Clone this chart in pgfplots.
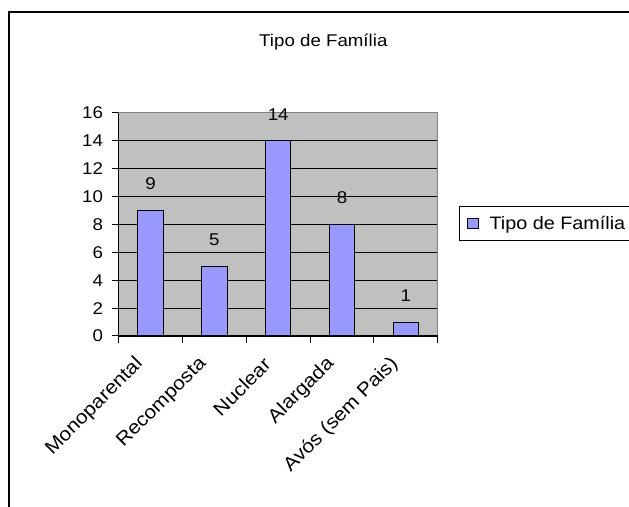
\documentclass[border=0pt]{standalone}
\usepackage{fontspec}
\setmainfont{Liberation Sans}[FakeStretch=1.1]
\usepackage{pgfplots}
\pgfplotsset{compat=1.18}
\definecolor{barblue}{RGB}{153,153,255}
\definecolor{plotgray}{RGB}{192,192,192}
\newcommand{\cf}{\fontsize{12.75}{15}\selectfont}
\newcommand{\lf}{\fontsize{13.5}{15}\selectfont}
\newcommand{\xf}{\fontsize{14.3}{16}\selectfont}
\begin{document}
\begin{tikzpicture}
\useasboundingbox (0,0) rectangle (471.75pt,380.25pt);
\clip (0,0) rectangle (471.75pt,380.25pt);
\fill[white] (0,0) rectangle (471.75pt,380.25pt);
\draw[line width=1.6pt] (6.75pt,-20pt) -- (6.75pt,371pt) -- (500pt,371pt);
\node[anchor=base, font=\cf, inner sep=0pt] at (242.5pt,345.2pt) {Tipo de Família};
\begin{axis}[
  at={(89.03pt,128.25pt)}, anchor=south west,
  scale only axis, width=239.25pt, height=167.5pt,
  clip=false,
  xmin=-0.5, xmax=4.5, ymin=0, ymax=16,
  ytick={0,2,...,16},
  xtick={0,1,2,3,4},
  xticklabels={Monoparental,Recomposta,Nuclear,Alargada,Avós (sem Pais)},
  minor xtick={-0.5,0.5,...,4.5},
  major x tick style={draw=none},
  tick align=outside,
  xtick pos=bottom, ytick pos=left,
  major tick length=5.25pt, minor tick length=5pt,
  tick style={black, line width=0.75pt},
  ymajorgrids, grid style={black, line width=0.75pt},
  axis background/.style={fill=plotgray},
  axis line style={draw=gray, line width=0.9pt},
  /pgf/number format/assume math mode=true,
  tick label style={font=\cf},
  yticklabel style={inner sep=0pt, xshift=-6.3pt},
  xticklabel style={font=\xf, xshift=-8pt, yshift=-13.5pt, rotate=45, anchor=east, inner sep=0pt},
  legend style={at={(1.0668,0.5822)}, anchor=north west, draw=black, line width=0.75pt,
    font=\lf, inner xsep=4pt, inner ysep=7pt, fill=white, nodes={inner sep=0pt}},
  legend image code/.code={\path[draw=none,fill=none] (0pt,0pt) -- (18.5pt,0pt);
    \draw[fill=barblue,draw=black,line width=0.6pt] (2pt,-3.5pt) rectangle (10pt,4pt);},
]
\addplot[ybar, fill=barblue, draw=black, line width=0.75pt, bar width=19pt,
  nodes near coords,
  every node near coord/.append style={font=\cf, inner sep=0pt, yshift=15pt, black, anchor=south}]
  coordinates {(0,9) (1,5) (2,14) (3,8) (4,1)};
\addlegendentry{Tipo de Família}
\draw[black, line width=0.9pt] (rel axis cs:0,1) -- (rel axis cs:0,0) -- (rel axis cs:1,0);
\end{axis}
\end{tikzpicture}
\end{document}
